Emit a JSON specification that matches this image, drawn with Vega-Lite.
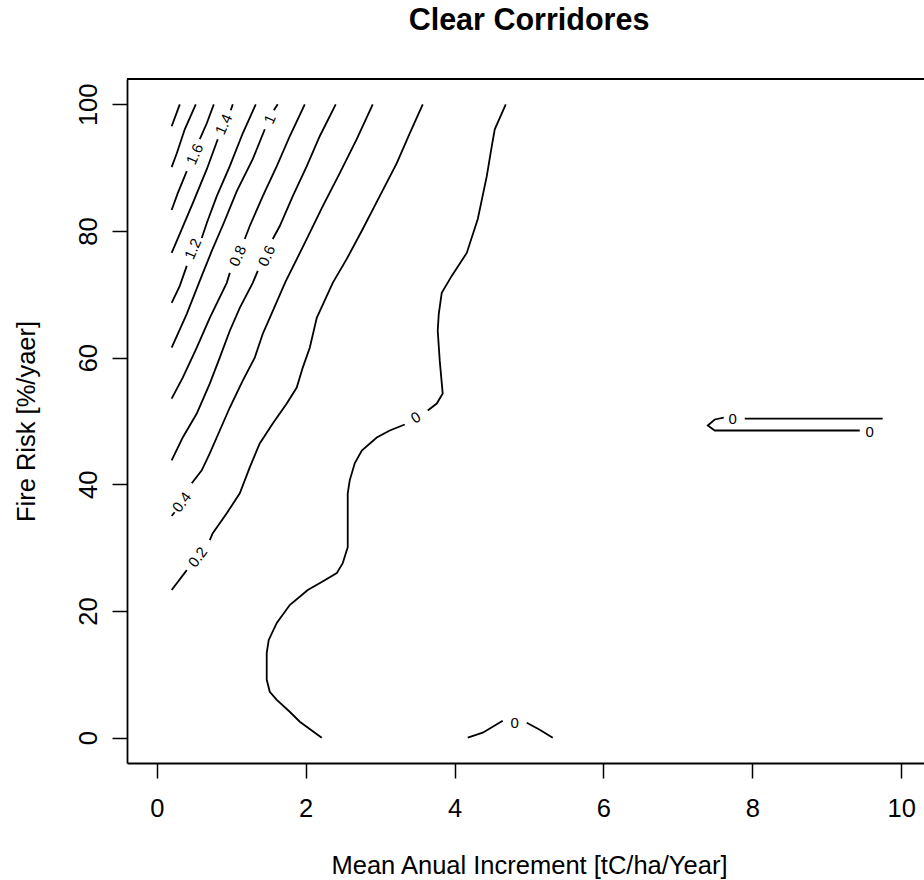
{
  "$schema": "https://vega.github.io/schema/vega-lite/v6.json",
  "autosize": {"type": "none"},
  "padding": {"left": 127, "top": 79, "right": 0, "bottom": 117},
  "width": 797,
  "height": 684,
  "background": "white",
  "config": {
    "view": {"stroke": null},
    "axis": {
      "grid": false,
      "domainColor": "black",
      "domainWidth": 1.8,
      "tickColor": "black",
      "tickWidth": 1.5,
      "tickSize": 15,
      "labelFont": "Liberation Sans",
      "labelFontSize": 25.5,
      "labelColor": "black",
      "labelFlush": false,
      "labelOverlap": false,
      "titleFont": "Liberation Sans",
      "titleFontSize": 25.5,
      "titleFontWeight": "normal",
      "titleColor": "black"
    }
  },
  "title": {
    "text": "Clear Corridores",
    "font": "Liberation Sans",
    "fontSize": 30.5,
    "fontWeight": "bold",
    "color": "black",
    "baseline": "alphabetic",
    "offset": 18,
    "dx": 3.5
  },
  "datasets": {
    "lines": [
      {"s": "2.0", "o": 1, "x": 0.309, "y": 100}, {"s": "2.0", "o": 2, "x": 0.2, "y": 96.54},
      {"s": "1.8", "o": 1, "x": 0.524, "y": 100}, {"s": "1.8", "o": 2, "x": 0.376, "y": 96.06}, {"s": "1.8", "o": 3, "x": 0.269, "y": 92.28}, {"s": "1.8", "o": 4, "x": 0.2, "y": 90.08},
      {"s": "1.6a", "o": 1, "x": 0.766, "y": 100}, {"s": "1.6a", "o": 2, "x": 0.672, "y": 97.01}, {"s": "1.6a", "o": 3, "x": 0.578, "y": 94.49},
      {"s": "1.6b", "o": 1, "x": 0.403, "y": 89.45}, {"s": "1.6b", "o": 2, "x": 0.282, "y": 85.98}, {"s": "1.6b", "o": 3, "x": 0.2, "y": 83.31},
      {"s": "1.4a", "o": 1, "x": 1.021, "y": 100}, {"s": "1.4a", "o": 2, "x": 0.994, "y": 99.06},
      {"s": "1.4b", "o": 1, "x": 0.819, "y": 94.49}, {"s": "1.4b", "o": 2, "x": 0.672, "y": 89.76}, {"s": "1.4b", "o": 3, "x": 0.484, "y": 84.41}, {"s": "1.4b", "o": 4, "x": 0.336, "y": 80.31}, {"s": "1.4b", "o": 5, "x": 0.2, "y": 76.54},
      {"s": "1.2a", "o": 1, "x": 1.33, "y": 100}, {"s": "1.2a", "o": 2, "x": 1.155, "y": 95.43}, {"s": "1.2a", "o": 3, "x": 0.981, "y": 90.24}, {"s": "1.2a", "o": 4, "x": 0.806, "y": 85.51}, {"s": "1.2a", "o": 5, "x": 0.672, "y": 81.26}, {"s": "1.2a", "o": 6, "x": 0.604, "y": 78.9},
      {"s": "1.2b", "o": 1, "x": 0.403, "y": 74.49}, {"s": "1.2b", "o": 2, "x": 0.309, "y": 71.34}, {"s": "1.2b", "o": 3, "x": 0.2, "y": 68.66},
      {"s": "1.0a", "o": 1, "x": 1.625, "y": 100}, {"s": "1.0a", "o": 2, "x": 1.572, "y": 99.06},
      {"s": "1.0b", "o": 1, "x": 1.451, "y": 96.06}, {"s": "1.0b", "o": 2, "x": 1.289, "y": 91.34}, {"s": "1.0b", "o": 3, "x": 1.075, "y": 86.3}, {"s": "1.0b", "o": 4, "x": 0.9, "y": 81.26}, {"s": "1.0b", "o": 5, "x": 0.739, "y": 76.85}, {"s": "1.0b", "o": 6, "x": 0.604, "y": 72.91}, {"s": "1.0b", "o": 7, "x": 0.403, "y": 66.93}, {"s": "1.0b", "o": 8, "x": 0.2, "y": 61.57},
      {"s": "0.8a", "o": 1, "x": 1.988, "y": 100}, {"s": "0.8a", "o": 2, "x": 1.786, "y": 94.96}, {"s": "0.8a", "o": 3, "x": 1.612, "y": 90.24}, {"s": "0.8a", "o": 4, "x": 1.424, "y": 85.51}, {"s": "0.8a", "o": 5, "x": 1.249, "y": 80.79}, {"s": "0.8a", "o": 6, "x": 1.182, "y": 78.74},
      {"s": "0.8b", "o": 1, "x": 0.981, "y": 73.39}, {"s": "0.8b", "o": 2, "x": 0.94, "y": 71.81}, {"s": "0.8b", "o": 3, "x": 0.712, "y": 66.3}, {"s": "0.8b", "o": 4, "x": 0.537, "y": 61.57}, {"s": "0.8b", "o": 5, "x": 0.349, "y": 56.85}, {"s": "0.8b", "o": 6, "x": 0.2, "y": 53.54},
      {"s": "0.6a", "o": 1, "x": 2.404, "y": 100}, {"s": "0.6a", "o": 2, "x": 2.189, "y": 94.96}, {"s": "0.6a", "o": 3, "x": 2.015, "y": 90.24}, {"s": "0.6a", "o": 4, "x": 1.827, "y": 85.51}, {"s": "0.6a", "o": 5, "x": 1.652, "y": 80.79}, {"s": "0.6a", "o": 6, "x": 1.558, "y": 78.74},
      {"s": "0.6b", "o": 1, "x": 1.357, "y": 73.7}, {"s": "0.6b", "o": 2, "x": 1.289, "y": 71.81}, {"s": "0.6b", "o": 3, "x": 1.115, "y": 67.87}, {"s": "0.6b", "o": 4, "x": 0.981, "y": 64.25}, {"s": "0.6b", "o": 5, "x": 0.846, "y": 60.0}, {"s": "0.6b", "o": 6, "x": 0.712, "y": 55.91}, {"s": "0.6b", "o": 7, "x": 0.537, "y": 51.18}, {"s": "0.6b", "o": 8, "x": 0.349, "y": 47.4}, {"s": "0.6b", "o": 9, "x": 0.2, "y": 43.78},
      {"s": "0.4a", "o": 1, "x": 2.901, "y": 100}, {"s": "0.4a", "o": 2, "x": 2.686, "y": 94.49}, {"s": "0.4a", "o": 3, "x": 2.458, "y": 89.13}, {"s": "0.4a", "o": 4, "x": 2.23, "y": 83.94}, {"s": "0.4a", "o": 5, "x": 2.015, "y": 78.74}, {"s": "0.4a", "o": 6, "x": 1.73, "y": 72.0}, {"s": "0.4a", "o": 7, "x": 1.518, "y": 66.3}, {"s": "0.4a", "o": 8, "x": 1.424, "y": 63.78}, {"s": "0.4a", "o": 9, "x": 1.316, "y": 60.0}, {"s": "0.4a", "o": 10, "x": 1.155, "y": 56.38}, {"s": "0.4a", "o": 11, "x": 0.981, "y": 52.13}, {"s": "0.4a", "o": 12, "x": 0.846, "y": 48.5}, {"s": "0.4a", "o": 13, "x": 0.712, "y": 44.88}, {"s": "0.4a", "o": 14, "x": 0.604, "y": 42.2}, {"s": "0.4a", "o": 15, "x": 0.47, "y": 40.16},
      {"s": "0.4b", "o": 1, "x": 0.24, "y": 35.6}, {"s": "0.4b", "o": 2, "x": 0.2, "y": 35.0},
      {"s": "0.2a", "o": 1, "x": 3.573, "y": 100}, {"s": "0.2a", "o": 2, "x": 3.398, "y": 95.43}, {"s": "0.2a", "o": 3, "x": 3.224, "y": 90.71}, {"s": "0.2a", "o": 4, "x": 2.995, "y": 85.51}, {"s": "0.2a", "o": 5, "x": 2.767, "y": 80.31}, {"s": "0.2a", "o": 6, "x": 2.552, "y": 75.59}, {"s": "0.2a", "o": 7, "x": 2.364, "y": 71.81}, {"s": "0.2a", "o": 8, "x": 2.149, "y": 66.3}, {"s": "0.2a", "o": 9, "x": 2.055, "y": 61.57}, {"s": "0.2a", "o": 10, "x": 1.961, "y": 58.43}, {"s": "0.2a", "o": 11, "x": 1.88, "y": 55.28}, {"s": "0.2a", "o": 12, "x": 1.746, "y": 52.76}, {"s": "0.2a", "o": 13, "x": 1.558, "y": 49.61}, {"s": "0.2a", "o": 14, "x": 1.383, "y": 46.46}, {"s": "0.2a", "o": 15, "x": 1.249, "y": 42.68}, {"s": "0.2a", "o": 16, "x": 1.115, "y": 38.58}, {"s": "0.2a", "o": 17, "x": 0.94, "y": 35.43}, {"s": "0.2a", "o": 18, "x": 0.752, "y": 32.28}, {"s": "0.2a", "o": 19, "x": 0.712, "y": 31.18},
      {"s": "0.2b", "o": 1, "x": 0.403, "y": 26.46}, {"s": "0.2b", "o": 2, "x": 0.2, "y": 23.31},
      {"s": "0a", "o": 1, "x": 4.688, "y": 100}, {"s": "0a", "o": 2, "x": 4.54, "y": 96.06}, {"s": "0a", "o": 3, "x": 4.5, "y": 93.39}, {"s": "0a", "o": 4, "x": 4.433, "y": 88.66}, {"s": "0a", "o": 5, "x": 4.312, "y": 81.89}, {"s": "0a", "o": 6, "x": 4.164, "y": 76.54}, {"s": "0a", "o": 7, "x": 3.962, "y": 72.91}, {"s": "0a", "o": 8, "x": 3.828, "y": 70.24}, {"s": "0a", "o": 9, "x": 3.788, "y": 66.93}, {"s": "0a", "o": 10, "x": 3.774, "y": 64.25}, {"s": "0a", "o": 11, "x": 3.801, "y": 59.53}, {"s": "0a", "o": 12, "x": 3.841, "y": 54.33}, {"s": "0a", "o": 13, "x": 3.761, "y": 52.76}, {"s": "0a", "o": 14, "x": 3.64, "y": 51.65},
      {"s": "0b", "o": 1, "x": 3.331, "y": 49.45}, {"s": "0b", "o": 2, "x": 3.13, "y": 48.5}, {"s": "0b", "o": 3, "x": 2.955, "y": 47.4}, {"s": "0b", "o": 4, "x": 2.754, "y": 45.35}, {"s": "0b", "o": 5, "x": 2.659, "y": 43.31}, {"s": "0b", "o": 6, "x": 2.592, "y": 40.63}, {"s": "0b", "o": 7, "x": 2.565, "y": 38.58}, {"s": "0b", "o": 8, "x": 2.565, "y": 34.33}, {"s": "0b", "o": 9, "x": 2.565, "y": 30.08}, {"s": "0b", "o": 10, "x": 2.498, "y": 27.56}, {"s": "0b", "o": 11, "x": 2.418, "y": 25.98}, {"s": "0b", "o": 12, "x": 2.216, "y": 24.57}, {"s": "0b", "o": 13, "x": 2.028, "y": 23.31}, {"s": "0b", "o": 14, "x": 1.786, "y": 20.94}, {"s": "0b", "o": 15, "x": 1.612, "y": 18.11}, {"s": "0b", "o": 16, "x": 1.504, "y": 15.43}, {"s": "0b", "o": 17, "x": 1.477, "y": 13.39}, {"s": "0b", "o": 18, "x": 1.477, "y": 9.13}, {"s": "0b", "o": 19, "x": 1.518, "y": 7.24}, {"s": "0b", "o": 20, "x": 1.612, "y": 5.98}, {"s": "0b", "o": 21, "x": 1.786, "y": 4.09}, {"s": "0b", "o": 22, "x": 1.921, "y": 2.52}, {"s": "0b", "o": 23, "x": 2.216, "y": 0},
      {"s": "hL", "o": 1, "x": 4.177, "y": 0}, {"s": "hL", "o": 2, "x": 4.379, "y": 0.79}, {"s": "hL", "o": 3, "x": 4.647, "y": 2.68},
      {"s": "hR", "o": 1, "x": 4.97, "y": 2.36}, {"s": "hR", "o": 2, "x": 5.144, "y": 1.26}, {"s": "hR", "o": 3, "x": 5.319, "y": 0},
      {"s": "rU", "o": 1, "x": 9.751, "y": 50.39}, {"s": "rU", "o": 2, "x": 7.898, "y": 50.39},
      {"s": "rL", "o": 1, "x": 7.616, "y": 50.55}, {"s": "rL", "o": 2, "x": 7.495, "y": 50.24}, {"s": "rL", "o": 3, "x": 7.401, "y": 49.29}, {"s": "rL", "o": 4, "x": 7.495, "y": 48.5}, {"s": "rL", "o": 5, "x": 9.443, "y": 48.5}
    ],
    "labels": [
      {"t": "1.6", "x": 0.51, "y": 92.13, "g": "steep"},
      {"t": "1.4", "x": 0.9, "y": 96.85, "g": "steep"},
      {"t": "1.2", "x": 0.484, "y": 77.17, "g": "steep"},
      {"t": "1", "x": 1.518, "y": 97.64, "g": "steep"},
      {"t": "0.8", "x": 1.088, "y": 76.06, "g": "steep"},
      {"t": "0.6", "x": 1.477, "y": 76.06, "g": "steep"},
      {"t": "0.4", "x": 0.336, "y": 37.17, "g": "mid"},
      {"t": "0.2", "x": 0.551, "y": 28.5, "g": "mid"},
      {"t": "0", "x": 3.479, "y": 50.55, "g": "slight"},
      {"t": "0", "x": 4.809, "y": 2.36, "g": "flat"},
      {"t": "0", "x": 7.737, "y": 50.39, "g": "flat"},
      {"t": "0", "x": 9.577, "y": 48.19, "g": "flat"}
    ],
    "frame": [
      {"x": -0.4, "x2": 10.306, "y": 104}
    ]
  },
  "encoding": {
    "x": {
      "field": "x", "type": "quantitative",
      "scale": {"domain": [-0.4, 10.306], "nice": false, "zero": false},
      "axis": {
        "values": [0, 2, 4, 6, 8, 10],
        "title": "Mean Anual Increment [tC/ha/Year]",
        "labelBaseline": "alphabetic",
        "labelPadding": 38,
        "titleBaseline": "alphabetic",
        "titleAlign": "center",
        "titleX": 402,
        "titleY": 110
      }
    },
    "y": {
      "field": "y", "type": "quantitative",
      "scale": {"domain": [-4, 104], "nice": false, "zero": false},
      "axis": {
        "values": [0, 20, 40, 60, 80, 100],
        "title": "Fire Risk [%/yaer]",
        "labelAngle": 270,
        "labelAlign": "center",
        "labelBaseline": "alphabetic",
        "labelPadding": 16,
        "titleAngle": 270,
        "titleBaseline": "alphabetic",
        "titleAlign": "center",
        "titleX": -93,
        "titleY": 342
      }
    }
  },
  "layer": [
    {
      "data": {"name": "lines"},
      "mark": {"type": "line", "color": "black", "strokeWidth": 1.8, "clip": true},
      "encoding": {
        "detail": {"field": "s", "type": "nominal"},
        "order": {"field": "o", "type": "quantitative"}
      }
    },
    {
      "data": {"name": "frame"},
      "mark": {"type": "rule", "color": "black", "strokeWidth": 1.8},
      "encoding": {
        "x2": {"field": "x2"}
      }
    },
    {
      "data": {"name": "labels"},
      "transform": [{"filter": "datum.g == 'steep'"}],
      "mark": {"type": "text", "angle": 294, "font": "Liberation Sans", "fontSize": 15, "color": "black", "align": "center", "baseline": "middle"},
      "encoding": {"text": {"field": "t", "type": "nominal"}}
    },
    {
      "data": {"name": "labels"},
      "transform": [{"filter": "datum.g == 'mid'"}],
      "mark": {"type": "text", "angle": 307, "font": "Liberation Sans", "fontSize": 15, "color": "black", "align": "center", "baseline": "middle"},
      "encoding": {"text": {"field": "t", "type": "nominal"}}
    },
    {
      "data": {"name": "labels"},
      "transform": [{"filter": "datum.g == 'slight'"}],
      "mark": {"type": "text", "angle": 329, "font": "Liberation Sans", "fontSize": 15, "color": "black", "align": "center", "baseline": "middle"},
      "encoding": {"text": {"field": "t", "type": "nominal"}}
    },
    {
      "data": {"name": "labels"},
      "transform": [{"filter": "datum.g == 'flat'"}],
      "mark": {"type": "text", "angle": 0, "font": "Liberation Sans", "fontSize": 15, "color": "black", "align": "center", "baseline": "middle"},
      "encoding": {"text": {"field": "t", "type": "nominal"}}
    }
  ]
}
